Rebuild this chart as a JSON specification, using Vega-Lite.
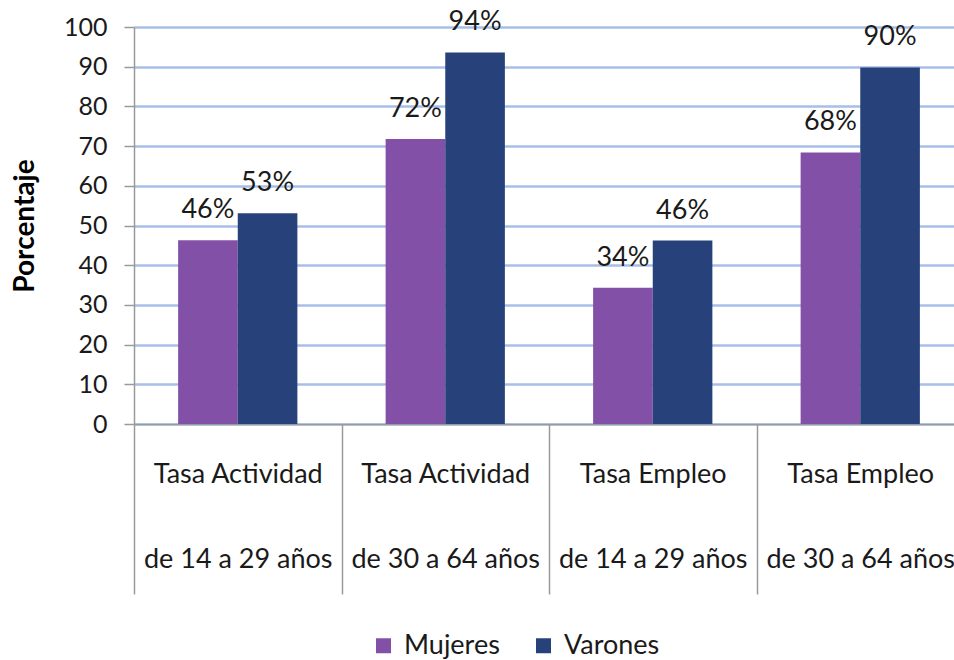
{
  "$schema": "https://vega.github.io/schema/vega-lite/v6.json",
  "width": 830,
  "height": 397,
  "autosize": "none",
  "padding": {"left": 134, "top": 27, "right": -10, "bottom": 236},
  "background": "white",
  "config": {
    "font": "Lato",
    "view": {"stroke": null},
    "text": {"font": "Lato"}
  },
  "data": {
    "values": [
      {"categoria": "Tasa Actividad de 14 a 29 años", "sexo": "Mujeres", "valor": 46.3},
      {"categoria": "Tasa Actividad de 14 a 29 años", "sexo": "Varones", "valor": 53.1},
      {"categoria": "Tasa Actividad de 30 a 64 años", "sexo": "Mujeres", "valor": 71.8},
      {"categoria": "Tasa Actividad de 30 a 64 años", "sexo": "Varones", "valor": 93.6},
      {"categoria": "Tasa Empleo de 14 a 29 años", "sexo": "Mujeres", "valor": 34.3},
      {"categoria": "Tasa Empleo de 14 a 29 años", "sexo": "Varones", "valor": 46.2},
      {"categoria": "Tasa Empleo de 30 a 64 años", "sexo": "Mujeres", "valor": 68.4},
      {"categoria": "Tasa Empleo de 30 a 64 años", "sexo": "Varones", "valor": 89.8}
    ]
  },
  "transform": [
    {"calculate": "format(datum.valor, '.0f') + '%'", "as": "etiqueta"}
  ],
  "encoding": {
    "x": {
      "field": "categoria",
      "type": "nominal",
      "sort": null,
      "scale": {"paddingInner": 0, "paddingOuter": 0},
      "axis": {
        "title": null,
        "labelAngle": 0,
        "labelExpr": "split(replace(datum.label, ' de ', '|de '), '|')",
        "labelFontSize": 27,
        "labelColor": "#1a1a1a",
        "labelLineHeight": 85,
        "labelPadding": -133,
        "labelBaseline": "top",
        "labelLimit": 0,
        "tickBand": "extent",
        "tickSize": 170,
        "tickColor": "#9a9a9a",
        "tickWidth": 1.5,
        "domainColor": "#9a9a9a",
        "domainWidth": 1.5,
        "grid": false
      }
    },
    "xOffset": {
      "field": "sexo",
      "type": "nominal",
      "sort": ["Mujeres", "Varones"],
      "scale": {"paddingInner": 0, "paddingOuter": 0.74}
    },
    "y": {
      "field": "valor",
      "type": "quantitative",
      "scale": {"domain": [0, 100], "nice": false},
      "axis": {
        "title": "Porcentaje",
        "titleFontSize": 28,
        "titleFontWeight": "bold",
        "titleColor": "#000000",
        "titlePadding": 24,
        "values": [0, 10, 20, 30, 40, 50, 60, 70, 80, 90, 100],
        "labelFontSize": 25,
        "labelColor": "#1a1a1a",
        "labelPadding": 17,
        "tickSize": 10,
        "tickColor": "#9a9a9a",
        "tickWidth": 1.5,
        "domainColor": "#9a9a9a",
        "domainWidth": 1.5,
        "gridColor": "#a7bfe8",
        "gridWidth": 2.5
      }
    }
  },
  "layer": [
    {
      "mark": {"type": "bar"},
      "encoding": {
        "color": {
          "field": "sexo",
          "type": "nominal",
          "scale": {"domain": ["Mujeres", "Varones"], "range": ["#8350a8", "#27427a"]},
          "legend": {
            "title": null,
            "orient": "none",
            "direction": "horizontal",
            "legendX": 236,
            "legendY": 605,
            "padding": 0,
            "symbolType": "square",
            "symbolSize": 225,
            "symbolStrokeWidth": 0,
            "labelFontSize": 27,
            "labelColor": "#1a1a1a",
            "labelOffset": 7,
            "columnPadding": 30
          }
        }
      }
    },
    {
      "mark": {"type": "text", "baseline": "alphabetic", "dy": -22, "fontSize": 27, "color": "#1a1a1a"},
      "encoding": {"text": {"field": "etiqueta", "type": "nominal"}}
    }
  ]
}
